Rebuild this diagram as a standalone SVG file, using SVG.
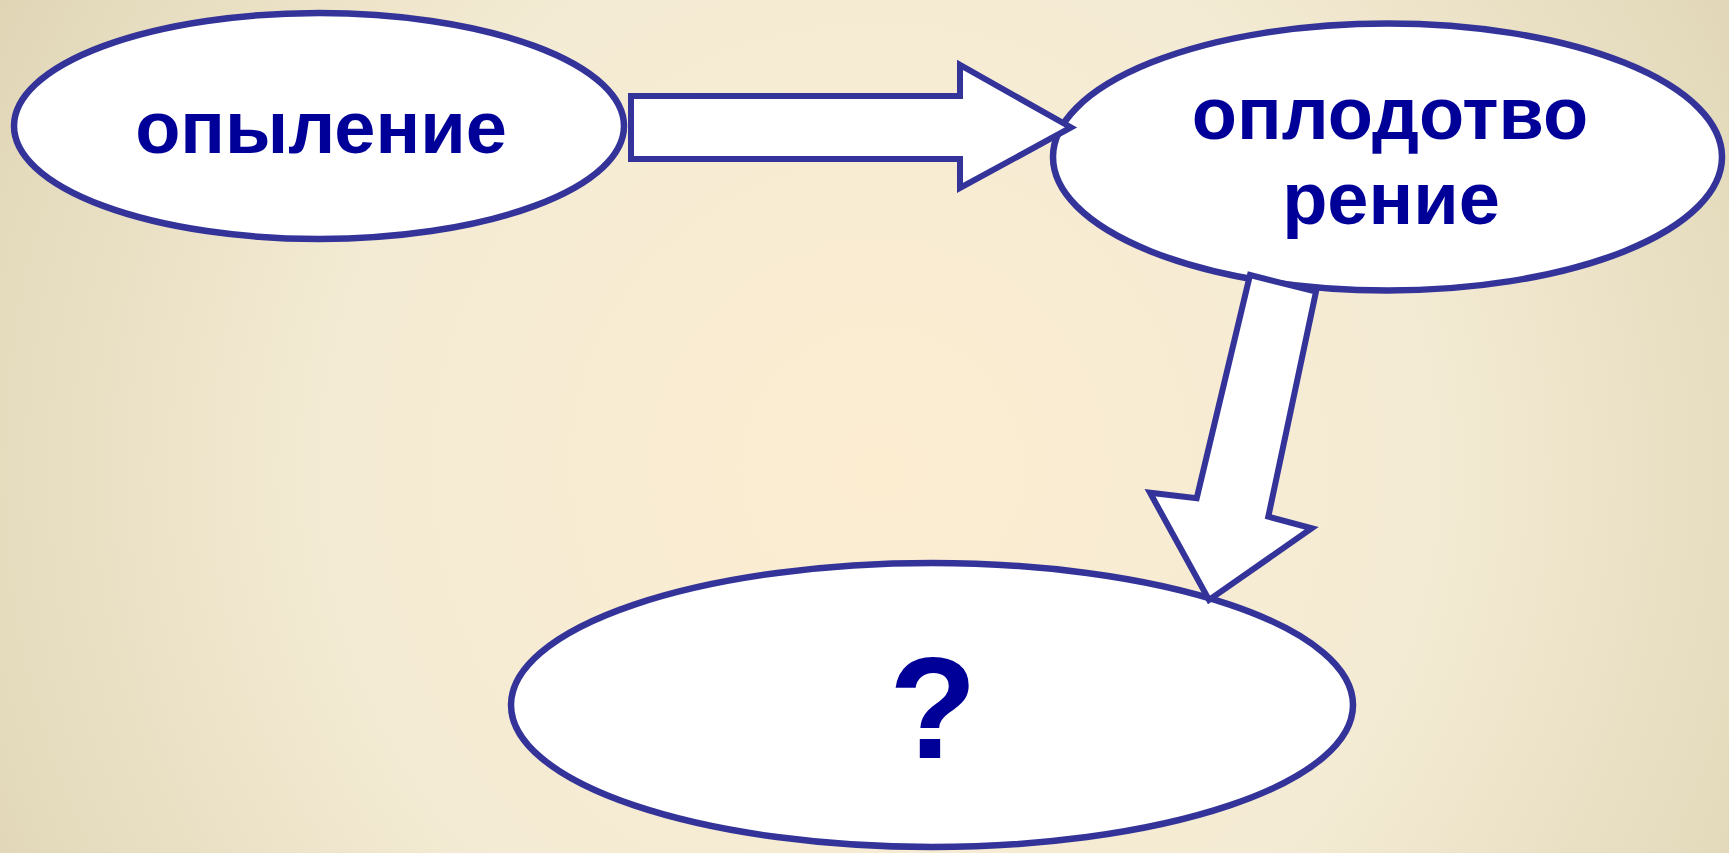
<svg xmlns="http://www.w3.org/2000/svg" width="1729" height="853" viewBox="0 0 1729 853">
  <defs>
    <radialGradient id="bg" gradientUnits="userSpaceOnUse" cx="880" cy="470" r="1000">
      <stop offset="0" stop-color="#fcedd1"/>
      <stop offset="0.55" stop-color="#f4ebd4"/>
      <stop offset="1" stop-color="#e0d6b6"/>
    </radialGradient>
  </defs>
  <style>
    .node { fill: #ffffff; stroke: #333399; stroke-width: 6.5; }
    .arrow { fill: #ffffff; stroke: #333399; stroke-width: 6; stroke-linejoin: miter; }
    .label { font-family: "Liberation Sans", Arial, sans-serif; font-weight: bold; fill: #000099; text-anchor: middle; }
  </style>
  <rect x="0" y="0" width="1729" height="853" fill="url(#bg)"/>
  <g id="node-pollination">
    <ellipse class="node" cx="319" cy="126" rx="305" ry="113"/>
    <text class="label" x="321" y="152.5" font-size="74">опыление</text>
  </g>
  <g id="node-fertilization">
    <ellipse class="node" cx="1387.5" cy="157" rx="334.5" ry="133.5"/>
    <text class="label" x="1390" y="139" font-size="74">оплодотво</text>
    <text class="label" x="1391" y="224" font-size="74">рение</text>
  </g>
  <g id="node-unknown">
    <ellipse class="node" cx="932" cy="705" rx="421" ry="142"/>
    <text class="label" x="933" y="758" font-size="144">?</text>
  </g>
  <g id="connectors">
    <path class="arrow" d="M631,96 H960 V65 L1071,127.5 L960,188 V159 H631 Z"/>
    <path class="arrow" d="M1250,275 L1316,291.7 L1268.3,516.7 L1311.7,528.3 L1209,600 L1150,492.7 L1196.7,498.3 Z"/>
  </g>
</svg>
